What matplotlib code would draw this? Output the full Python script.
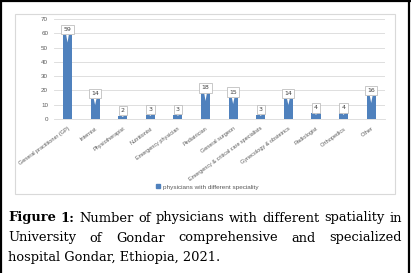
import matplotlib.pyplot as plt
from matplotlib.patches import Rectangle
from matplotlib.lines import Line2D

# data
specialties = ["General practitioner (GP)", "Internist", "Physiotherapist", "Nutritionist",
               "Emergency physician", "Pediatrician", "General surgeon",
               "Emergency & critical care specialists", "Gynecology & obstetrics",
               "Radiologist", "Orthopedics", "Other"]
counts = [59, 14, 2, 3, 3, 18, 15, 3, 14, 4, 4, 16]
series_name = "physicians with different speciality"

caption_bold = "Figure 1:"
caption_lines = ["Number of physicians with different spatiality in",
                 "University of Gondar comprehensive and specialized",
                 "hospital Gondar, Ethiopia, 2021."]

bar_color = "#4F81BD"
grey_txt = "#595959"
small_font = ["Liberation Sans Narrow", "Liberation Sans", "DejaVu Sans"]

fig = plt.figure(figsize=(4.11, 2.73), dpi=100)

# outer frame (left, top, right)
for xs, ys in [([0.002, 0.002], [0, 1]), ([0, 1], [0.997, 0.997]), ([0.995, 0.995], [0, 1])]:
    fig.add_artist(Line2D(xs, ys, color="black", lw=1.6, transform=fig.transFigure))

# chart area border
fig.add_artist(Rectangle((15 / 411, 79 / 273), 380 / 411, 180 / 273, fill=False,
                         ec="#D9D9D9", lw=0.8, transform=fig.transFigure))

ax = fig.add_axes([53.7 / 411, 154 / 273, 331.3 / 411, 100 / 273])
x = list(range(len(counts)))
ax.bar(x, counts, width=0.33, color=bar_color, zorder=2)
ax.set_ylim(0, 70)
ax.set_xlim(-0.5, len(counts) - 0.5)
ax.set_yticks(range(0, 71, 10))
ax.grid(axis="y", color="#D9D9D9", lw=0.6, zorder=0)
for s in ax.spines.values():
    s.set_visible(False)
ax.spines["bottom"].set_visible(True)
ax.spines["bottom"].set_color("#D9D9D9")
ax.spines["bottom"].set_linewidth(0.6)
ax.tick_params(length=0, labelsize=4.5, labelcolor=grey_txt, pad=4)
ax.tick_params(axis="x", pad=5)
ax.set_xticks(x)
ax.set_xticklabels(specialties, rotation=36, ha="right", rotation_mode="anchor",
                   family=small_font, fontsize=4.0)
for lab in ax.get_yticklabels():
    lab.set_family(small_font)

for i, v in zip(x, counts):
    d = min(5.5, v * 0.3)
    ax.annotate(str(v), xy=(i, v - d), xytext=(i, v + 3.8), textcoords="data",
                ha="center", va="center", fontsize=4.5, color="#404040", zorder=4,
                bbox=dict(boxstyle="square,pad=0.35", fc="white", ec="#BFBFBF", lw=0.6),
                arrowprops=dict(arrowstyle="wedge,tail_width=0.45", fc="white", ec="none",
                                shrinkA=0, shrinkB=0))

ax.legend([Rectangle((0, 0), 1, 1, color=bar_color)], [series_name], loc="center",
          bbox_to_anchor=(0.505, 86 / 273), bbox_transform=fig.transFigure, frameon=False,
          prop={"family": small_font, "size": 4.6}, labelcolor=grey_txt,
          handlelength=0.6, handleheight=0.6, handletextpad=0.5)

# caption, justified lines
renderer = fig.canvas.get_renderer()
fs = 9.4
left, right = 8 / 411, 402 / 411
ys = [1 - 218 / 273, 1 - 238 / 273, 1 - 257 / 273]


def width_of(t):
    bb = t.get_window_extent(renderer)
    return bb.width / fig.bbox.width


def justify(words, y, bold_first=False):
    arts = []
    for k, w in enumerate(words):
        wt = "bold" if (bold_first and k < 2) else "normal"
        arts.append(fig.text(0, y, w, fontsize=fs, family="DejaVu Serif", weight=wt,
                             va="center", ha="left"))
    widths = [width_of(a) for a in arts]
    gap = (right - left - sum(widths)) / (len(words) - 1)
    pos = left
    for a, w in zip(arts, widths):
        a.set_x(pos)
        pos += w + gap


justify(caption_bold.split() + caption_lines[0].split(), ys[0], bold_first=True)
justify(caption_lines[1].split(), ys[1])
fig.text(left, ys[2], caption_lines[2], fontsize=fs, family="DejaVu Serif",
         va="center", ha="left")

fig.savefig("out.png", dpi=100)
